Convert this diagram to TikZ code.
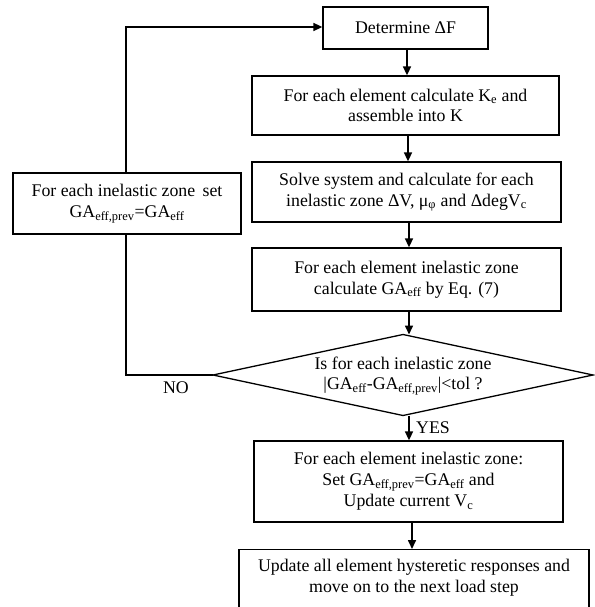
\documentclass[tikz,border=0pt]{standalone}
\usepackage{fontspec}
\setmainfont{Liberation Serif}
\usetikzlibrary{shapes.geometric,arrows.meta}
\begin{document}
\begin{tikzpicture}[x=1pt,y=-1pt,
  every node/.style={font=\fontsize{17.8}{20.8}\selectfont, inner sep=0pt, align=center},
  box/.style={draw, line width=1.3pt, rectangle},
  arr/.style={line width=1.6pt, -{Triangle[length=9pt,width=8pt]}},
  ln/.style={line width=1.3pt}]
\useasboundingbox (0,0) rectangle (594,607);
\node[box, minimum width=165pt, minimum height=42pt] (det) at (405.5,28) {Determine ΔF};
\node[box, minimum width=307pt, minimum height=59pt] (b2) at (405.5,105.5) {For each element calculate K\textsubscript{e} and\\assemble into K};
\node[box, minimum width=309pt, minimum height=60pt] (b3) at (406.5,192) {Solve system and calculate for each\\inelastic zone ΔV, μ\textsubscript{φ} and ΔdegV\textsubscript{c}};
\node[box, minimum width=309pt, minimum height=63pt] (b4) at (406.5,279.5) {For each element inelastic zone\\calculate GA\textsubscript{eff} by Eq. (7)};
\draw[ln] (213,375) coordinate (dl) -- (403,334.5) coordinate (dt) -- (593,375) coordinate (dr) -- (403,415.5) coordinate (db) -- cycle;
\node (dtext) at (403,376) {Is for each inelastic zone\\|GA\textsubscript{eff}-GA\textsubscript{eff,prev}|<tol ?};
\node[box, minimum width=309pt, minimum height=81pt] (b5) at (408.5,481.5) {For each element inelastic zone:\\Set GA\textsubscript{eff,prev}=GA\textsubscript{eff} and\\Update current V\textsubscript{c}};
\node[box, minimum width=350pt, minimum height=70pt, anchor=north] (b6) at (414,549) {};
\node (b6t) at (414,578) {Update all element hysteretic responses and\\move on to the next load step};
\node[box, minimum width=228pt, minimum height=61pt] (left) at (127,203.5) {For each inelastic zone\, set\\GA\textsubscript{eff,prev}=GA\textsubscript{eff}};
\draw[arr] (det.south -| 407,0) -- (b2.north -| 407,0);
\draw[arr] (b2.south -| 408,0) -- (b3.north -| 408,0);
\draw[arr] (b3.south -| 409,0) -- (b4.north -| 409,0);
\draw[arr] (b4.south -| 409,0) -- (dt -| 409,0);
\draw[arr] (db -| 409,0) -- (b5.north -| 409,0);
\draw[arr] (b5.south -| 412,0) -- (b6.north -| 412,0);
\draw[ln] (dl) -- (126,375) -- (left.south -| 126,0);
\draw[arr] (left.north -| 126,0) -- (126,27) -- (det.west |- 0,27);
\node[anchor=west] (yes) at (416,428) {YES};
\node (no) at (176,388) {NO};
\end{tikzpicture}
\end{document}
